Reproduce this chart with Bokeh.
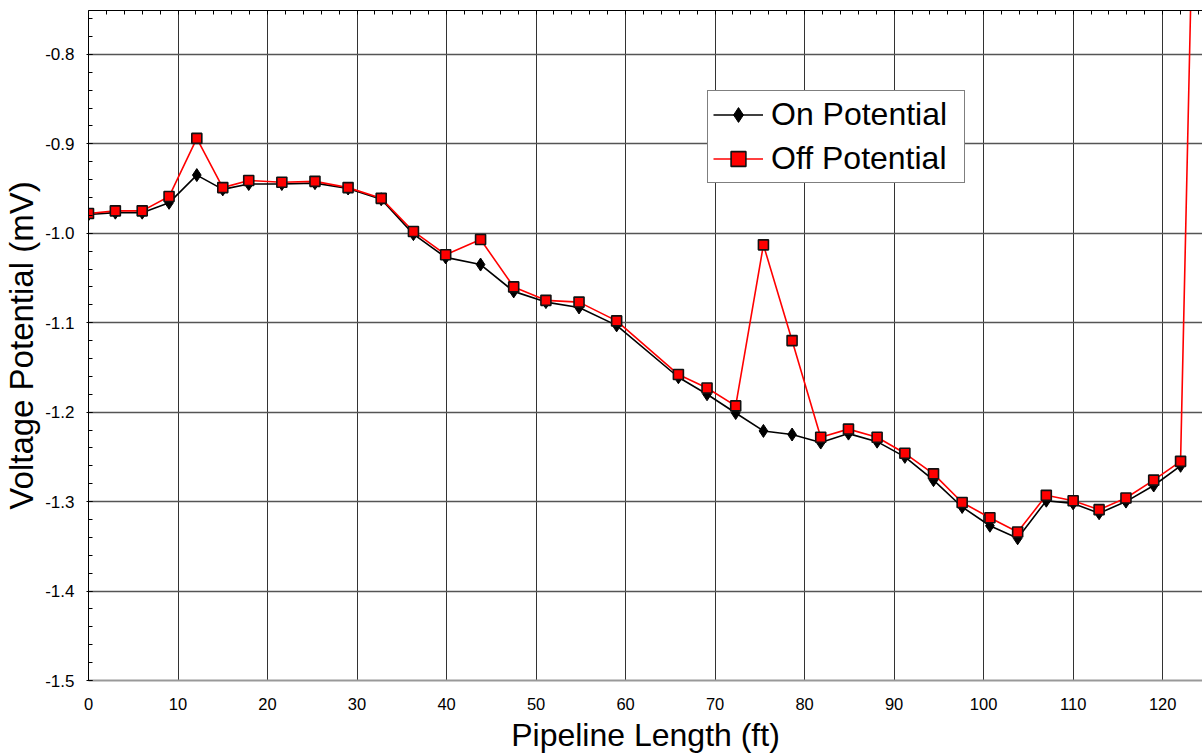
from bokeh.plotting import figure
from bokeh.models import LinearAxis, FixedTicker, Range1d, Legend, LegendItem
from bokeh.embed import file_html
from bokeh.resources import INLINE

# ---- data ----
length_ft = [0.0, 3.0, 6.0, 9.0, 12.1, 15.0, 17.9, 21.6, 25.3, 29.0,
             32.7, 36.3, 39.9, 43.8, 47.5, 51.1, 54.8, 59.0, 65.9, 69.1,
             72.3, 75.4, 78.6, 81.8, 84.9, 88.1, 91.2, 94.4, 97.6, 100.7,
             103.8, 107.0, 110.0, 112.9, 115.9, 119.0, 122.0]
on_potential = [-0.979, -0.977, -0.977, -0.966, -0.935, -0.951, -0.945, -0.945, -0.944, -0.950,
                -0.962, -1.001, -1.027, -1.035, -1.065, -1.077, -1.083, -1.103, -1.161, -1.180,
                -1.201, -1.221, -1.225, -1.234, -1.224, -1.233, -1.250, -1.276, -1.306, -1.327,
                -1.341, -1.299, -1.302, -1.313, -1.300, -1.282, -1.260]
off_length_ft = length_ft + [124.0]
off_potential = [-0.978, -0.975, -0.975, -0.959, -0.894, -0.949, -0.941, -0.943, -0.942, -0.949,
                 -0.961, -0.998, -1.024, -1.007, -1.060, -1.075, -1.077, -1.098, -1.158, -1.173,
                 -1.193, -1.013, -1.120, -1.228, -1.219, -1.228, -1.246, -1.269, -1.301, -1.318,
                 -1.334, -1.293, -1.299, -1.309, -1.296, -1.276, -1.255, -0.35]

x_ticks = [0, 10, 20, 30, 40, 50, 60, 70, 80, 90, 100, 110, 120]
y_ticks = [-1.5, -1.4, -1.3, -1.2, -1.1, -1.0, -0.9, -0.8]
y_tick_labels = ["-1.5", "-1.4", "-1.3", "-1.2", "-1.1", "-1.0", "-0.9", "-0.8"]
x_title = "Pipeline Length (ft)"
y_title = "Voltage Potential (mV)"

FONT = "Liberation Sans"

p = figure(width=1202, height=755, output_backend="svg", toolbar_location=None,
           x_range=Range1d(0, 124.45), y_range=Range1d(-1.5, -0.751),
           min_border_left=88, min_border_right=0, min_border_top=10, min_border_bottom=75)
p.outline_line_color = None
p.background_fill_color = "white"

x_minor = [2 * i for i in range(0, 63)]
y_minor = [round(-1.5 + 0.02 * i, 3) for i in range(0, 38)]

# bottom axis
xa = p.xaxis[0]
xa.ticker = FixedTicker(ticks=x_ticks)
xa.axis_label = x_title
xa.axis_label_text_font = FONT
xa.axis_label_text_font_size = "32px"
xa.axis_label_text_font_style = "normal"
xa.axis_label_text_color = "black"
xa.axis_label_standoff = 4
xa.major_label_text_font = FONT
xa.major_label_text_font_size = "16.5px"
xa.major_label_text_color = "black"
xa.major_label_standoff = 17
xa.major_tick_in = 0
xa.major_tick_out = 0
xa.minor_tick_in = 0
xa.minor_tick_out = 0
xa.axis_line_color = "#999999"
xa.axis_line_width = 2

# left axis
ya = p.yaxis[0]
ya.ticker = FixedTicker(ticks=y_ticks, minor_ticks=y_minor)
ya.major_label_overrides = {t: l for t, l in zip(y_ticks, y_tick_labels)}
ya.axis_label = y_title
ya.axis_label_text_font = FONT
ya.axis_label_text_font_size = "33px"
ya.axis_label_text_font_style = "normal"
ya.axis_label_text_color = "black"
ya.axis_label_standoff = 2
ya.major_label_text_font = FONT
ya.major_label_text_font_size = "17px"
ya.major_label_text_color = "black"
ya.major_label_standoff = 12
ya.major_tick_in = 4
ya.major_tick_out = 2
ya.minor_tick_in = 4
ya.minor_tick_out = 0
ya.major_tick_line_color = "black"
ya.minor_tick_line_color = "black"
ya.axis_line_color = "black"
ya.axis_line_width = 1

# top axis (minor tick marks only, no labels)
top = LinearAxis(ticker=FixedTicker(ticks=[], minor_ticks=x_minor))
top.major_label_standoff = 0
top.major_tick_in = 0
top.major_tick_out = 0
top.minor_tick_in = 4
top.minor_tick_out = 0
top.axis_line_color = "black"
top.minor_tick_line_color = "black"
p.add_layout(top, "above")

# grids
p.xgrid.ticker = FixedTicker(ticks=x_ticks)
p.xgrid.grid_line_color = "#333333"
p.xgrid.grid_line_width = 1
p.ygrid.ticker = FixedTicker(ticks=y_ticks)
p.ygrid.grid_line_color = "#555555"
p.ygrid.grid_line_width = 1.3

# series
on_line = p.line(length_ft, on_potential, line_color="black", line_width=1.6)
on_pts = p.scatter(length_ft, on_potential, marker="diamond", size=13,
                   fill_color="black", line_color="black")
off_line = p.line(off_length_ft, off_potential, line_color="#ff0000", line_width=1.6)
off_pts = p.scatter(off_length_ft, off_potential, marker="square", size=10,
                    fill_color="#ff0000", line_color="#111111", line_width=1.6)

legend = Legend(items=[LegendItem(label="On Potential", renderers=[on_line, on_pts]),
                       LegendItem(label="Off Potential", renderers=[off_line, off_pts])],
                location=(619, 497))
legend.label_text_font = FONT
legend.label_text_font_size = "32px"
legend.label_text_color = "black"
legend.glyph_width = 50
legend.glyph_height = 37
legend.label_standoff = 8
legend.label_width = 188
legend.label_height = 37
legend.padding = 5
legend.spacing = 7
legend.margin = 0
legend.border_line_color = "black"
legend.border_line_width = 1
legend.background_fill_color = "white"
legend.background_fill_alpha = 1
p.add_layout(legend)

open("out.html", "w").write(file_html(p, INLINE))
